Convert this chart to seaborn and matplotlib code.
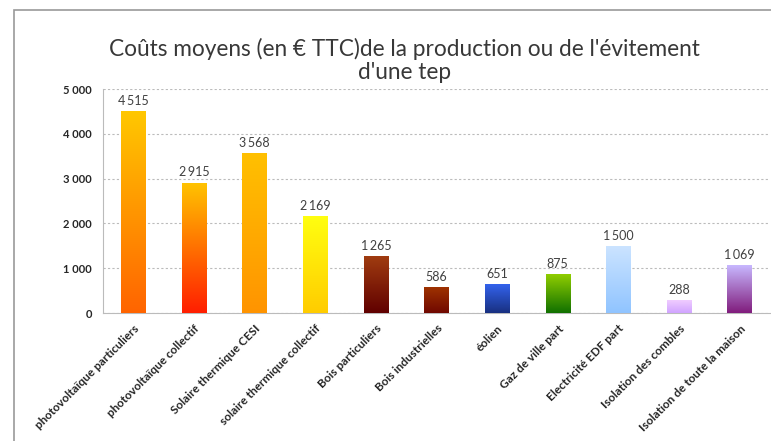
import numpy as np
import pandas as pd
import seaborn as sns
import matplotlib.pyplot as plt
import matplotlib.transforms as mtransforms
from matplotlib.colors import LinearSegmentedColormap
from matplotlib.patches import Rectangle

categories = ["photovoltaïque particuliers", "photovoltaïque collectif",
              "Solaire thermique CESI", "solaire thermique collectif",
              "Bois particuliers", "Bois industrielles", "éolien",
              "Gaz de ville part", "Electricité EDF part",
              "Isolation des combles", "Isolation de toute la maison"]
values = [4515, 2915, 3568, 2169, 1265, 586, 651, 875, 1500, 288, 1069]
# gradient colours, top then bottom
top_colors = ["#FFC800", "#FFC400", "#FFC000", "#FFFF10", "#A03C10", "#A03400",
              "#3464F0", "#94D000", "#CCE4FF", "#F0CCFF", "#C8B8FF"]
bottom_colors = ["#FF6400", "#FF1E00", "#FF9400", "#FFCC00", "#600000", "#700800",
                 "#183080", "#107000", "#90C4FF", "#D0A4FF", "#801C7C"]

df = pd.DataFrame({"cat": categories, "val": values})

sns.set_style("white")
plt.rcParams["font.family"] = ["Lato", "DejaVu Sans"]

fig = plt.figure(figsize=(7.71, 4.41), dpi=100)
ax = fig.add_axes([0.1336, 0.29, 0.865, 0.508])

sns.barplot(data=df, x="cat", y="val", ax=ax, width=0.4, color="#FFA000",
            saturation=1)

# gradient fill clipped to each bar
for patch, c1, c2 in zip(ax.patches, top_colors, bottom_colors):
    x0, y0 = patch.get_x(), patch.get_y()
    w, h = patch.get_width(), patch.get_height()
    cmap = LinearSegmentedColormap.from_list("g", [c1, c2])
    grad = np.linspace(0, 1, 256).reshape(-1, 1)
    im = ax.imshow(grad, cmap=cmap, aspect="auto",
                   extent=(x0, x0 + w, y0, y0 + h), origin="upper", zorder=3)
    im.set_clip_path(patch)
    patch.set_edgecolor("none")

for patch, v in zip(ax.patches, values):
    label = f"{v:,}".replace(",", "\u2009")
    ax.text(patch.get_x() + patch.get_width() / 2, v + 90, label,
            ha="center", va="bottom", fontsize=9, color="#404040", zorder=4)

ax.set_ylim(0, 5000)
ax.set_xlim(-0.5, len(categories) - 0.5)
ax.set_yticks(range(0, 5001, 1000))
ax.set_yticklabels([f"{t:,}".replace(",", " ") for t in range(0, 5001, 1000)],
                   fontsize=8, fontweight="bold")
ax.yaxis.grid(True, linestyle=(0, (2, 2)), color="#BBBBBB", linewidth=0.8)
ax.set_axisbelow(True)

ax.set_xticks(np.arange(len(categories)))
ax.set_xticklabels(categories, rotation=45, ha="right", rotation_mode="anchor",
                   fontsize=8.5, fontweight="bold")
shift = mtransforms.ScaledTranslation(10 / 100, 0, fig.dpi_scale_trans)
for lab in ax.get_xticklabels():
    lab.set_transform(lab.get_transform() + shift)
ax.set_xticks(np.arange(len(categories) + 1) - 0.5, minor=True)
ax.tick_params(axis="x", which="major", length=0, pad=7)
ax.tick_params(axis="x", which="minor", length=4, color="#BBBBBB", direction="out")
ax.tick_params(axis="y", length=0, pad=8)
ax.set_xlabel("")
ax.set_ylabel("")

for s in ["top", "right"]:
    ax.spines[s].set_visible(False)
ax.spines["left"].set_color("#BBBBBB")
ax.spines["bottom"].set_color("#BBBBBB")

fig.text(0.525, 0.863, "Coûts moyens (en € TTC)de la production ou de l'évitement\nd'une tep",
         ha="center", va="center", fontsize=16.3,
         color="#383838", linespacing=1.08)

fig.patches.append(Rectangle((14 / 771, -0.1), 1.2, 1 - 10 / 441 + 0.1,
                             transform=fig.transFigure, fill=False,
                             edgecolor="#999999", linewidth=1.2))

fig.savefig("out.png", dpi=100)
